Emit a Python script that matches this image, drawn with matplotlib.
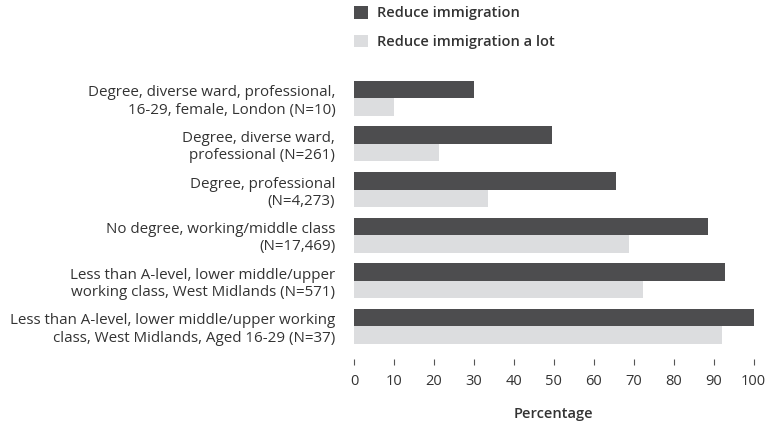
import numpy as np
import matplotlib.pyplot as plt

plt.rcParams['font.family'] = ['Open Sans', 'DejaVu Sans']

groups = [
    'Degree, diverse ward, professional,\n16-29, female, London (N=10)',
    'Degree, diverse ward,\nprofessional (N=261)',
    'Degree, professional\n(N=4,273)',
    'No degree, working/middle class\n(N=17,469)',
    'Less than A-level, lower middle/upper\nworking class, West Midlands (N=571)',
    'Less than A-level, lower middle/upper working\nclass, West Midlands, Aged 16-29 (N=37)',
]
reduce_immigration = [30, 49.5, 65.5, 88.5, 92.8, 100]
reduce_a_lot = [10, 21.3, 33.5, 68.8, 72.3, 92]
series_names = ['Reduce immigration', 'Reduce immigration a lot']
xticks = list(range(0, 101, 10))

dark = '#4d4d4f'
light = '#dcdddf'
text_col = '#333333'

fig = plt.figure(figsize=(7.72, 4.25), dpi=100)
ax = fig.add_axes([354 / 772, 1 - 349.3 / 425, (753.7 - 354) / 772, (349.3 - 75.5) / 425])

y = np.arange(len(groups))
h = 0.383
ax.barh(y - h / 2, reduce_immigration, height=h, color=dark, label=series_names[0])
ax.barh(y + h / 2, reduce_a_lot, height=h, color=light, label=series_names[1])

ax.set_ylim(len(groups) - 0.5, -0.5)
ax.set_xlim(0, 100)
ax.set_yticks(y, groups, fontsize=10.9, color=text_col, linespacing=1.2)
ax.tick_params(axis='y', length=0, pad=13.5)
ax.set_xticks(xticks)
ax.tick_params(axis='x', length=4, width=0.8, color='#555555', pad=7,
               labelsize=10.5, labelcolor=text_col)
for s in ax.spines.values():
    s.set_visible(False)
ax.spines['bottom'].set_position(('outward', 7))
ax.set_xlabel('Percentage', fontsize=10.5, fontweight='semibold', color=text_col, labelpad=13)

leg = ax.legend(loc='upper left', bbox_to_anchor=(354 / 772, 1 - 6 / 425),
                bbox_transform=fig.transFigure, frameon=False, borderpad=0,
                borderaxespad=0, handlelength=0.95, handleheight=0.95,
                handletextpad=0.6, labelspacing=1.0,
                prop={'size': 10.5, 'weight': 'semibold'})
for t in leg.get_texts():
    t.set_color(text_col)

fig.savefig('out.png', dpi=100)
